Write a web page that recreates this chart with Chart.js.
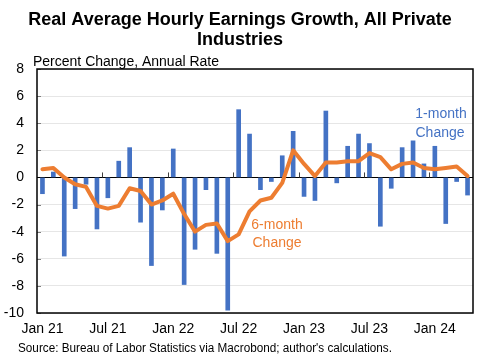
<!DOCTYPE html>
<html><head><meta charset="utf-8">
<script src="https://cdn.jsdelivr.net/npm/chart.js@4"></script>
<style>html,body{margin:0;padding:0;background:#fff}#wrap{width:480px;height:360px}</style>
</head><body><div id="wrap"><canvas id="c" width="480" height="360"></canvas></div>
<script>
const months = ["Jan 21","Feb 21","Mar 21","Apr 21","May 21","Jun 21","Jul 21","Aug 21","Sep 21","Oct 21","Nov 21","Dec 21",
"Jan 22","Feb 22","Mar 22","Apr 22","May 22","Jun 22","Jul 22","Aug 22","Sep 22","Oct 22","Nov 22","Dec 22",
"Jan 23","Feb 23","Mar 23","Apr 23","May 23","Jun 23","Jul 23","Aug 23","Sep 23","Oct 23","Nov 23","Dec 23",
"Jan 24","Feb 24","Mar 24","Apr 24"];
const oneMonth = [-1.2,0.4,-5.8,-2.3,-0.5,-3.8,-1.5,1.2,2.2,-3.3,-6.5,-2.4,
2.1,-7.9,-5.3,-0.9,-5.6,-9.8,5.0,3.2,-0.9,-0.3,1.6,3.4,
-1.4,-1.7,4.9,-0.4,2.3,3.2,2.5,-3.6,-0.8,2.2,2.7,1.0,
2.3,-3.4,-0.3,-1.3];
const sixMonth = [0.6,0.7,0.0,-0.5,-0.7,-2.1,-2.3,-2.1,-0.8,-1.0,-2.0,-1.7,
-1.2,-2.7,-4.0,-3.5,-3.4,-4.7,-4.2,-2.5,-1.7,-1.5,-0.4,2.0,
1.0,0.1,1.1,1.1,1.2,1.2,1.8,1.5,0.6,1.0,1.1,0.7,
0.6,0.7,0.8,0.1];
const tickLabels = ["Jan 21","Jul 21","Jan 22","Jul 22","Jan 23","Jul 23","Jan 24"];
const titleLines = ["Real Average Hourly Earnings Growth, All Private","Industries"];
const yAxisTitle = "Percent Change, Annual Rate";
const sourceText = "Source: Bureau of Labor Statistics via Macrobond; author's calculations.";

const FONT = "'Liberation Sans', Arial, sans-serif";
const BLUE = "#4472C4", ORANGE = "#ED7D31";

const decor = {
  id: 'decor',
  beforeDatasetsDraw(chart) {
    const {ctx, chartArea: a, scales} = chart;
    const y0 = scales.y.getPixelForValue(0);
    ctx.save();
    // y tick marks inside the plot
    ctx.strokeStyle = '#7F7F7F'; ctx.lineWidth = 1;
    scales.y.ticks.forEach(t => {
      const py = Math.round(scales.y.getPixelForValue(t.value)) + 0.5;
      ctx.beginPath(); ctx.moveTo(a.left, py); ctx.lineTo(a.left + 4, py); ctx.stroke();
    });
    ctx.strokeStyle = '#000';
    ctx.beginPath(); ctx.moveTo(a.left, Math.round(y0)+0.5); ctx.lineTo(a.right, Math.round(y0)+0.5); ctx.stroke();
    // tick marks between Jun/Jul and Dec/Jan
    const x = scales.x;
    const half = (x.getPixelForValue(1) - x.getPixelForValue(0)) / 2;
    ctx.strokeStyle = '#404040';
    months.forEach((m, i) => {
      if (i > 0 && (m.startsWith('Jul') || m.startsWith('Jan'))) {
        const px = Math.round(x.getPixelForValue(i) - half) + 0.5;
        ctx.beginPath(); ctx.moveTo(px, y0); ctx.lineTo(px, y0 - 5); ctx.stroke();
      }
    });
    ctx.restore();
  },
  afterDraw(chart) {
    const {ctx, chartArea: a} = chart;
    ctx.save();
    ctx.strokeStyle = '#000'; ctx.lineWidth = 1.5;
    ctx.strokeRect(a.left, a.top, a.right - a.left, a.bottom - a.top);
    ctx.fillStyle = '#000';
    ctx.textAlign = 'center'; ctx.textBaseline = 'middle';
    ctx.font = "bold 18px " + FONT;
    ctx.fillText(titleLines[0], 240, 20);
    ctx.fillText(titleLines[1], 240, 40);
    ctx.textAlign = 'left';
    ctx.font = "14px " + FONT;
    ctx.fillText(yAxisTitle, 33, 62);
    // source, fitted to width
    ctx.font = "12px " + FONT;
    const w = ctx.measureText(sourceText).width;
    ctx.save();
    ctx.translate(18, 349);
    ctx.scale(374 / w, 1);
    ctx.fillText(sourceText, 0, 0);
    ctx.restore();
    // annotations
    ctx.font = "14px " + FONT;
    ctx.textAlign = 'center';
    ctx.fillStyle = BLUE;
    ctx.fillText("1-month", 441, 114);
    ctx.fillText("Change", 440, 133);
    ctx.fillStyle = ORANGE;
    ctx.fillText("6-month", 277, 225);
    ctx.fillText("Change", 277, 243);
    ctx.restore();
  }
};

new Chart(document.getElementById('c'), {
  type: 'bar',
  data: {
    labels: months,
    datasets: [
      { type: 'line', label: '6-month Change', data: sixMonth, borderColor: ORANGE, backgroundColor: ORANGE,
        borderWidth: 4, pointRadius: 0, tension: 0, order: 0, borderJoinStyle: 'round', borderCapStyle: 'round' },
      { type: 'bar', label: '1-month Change', data: oneMonth, backgroundColor: BLUE, barThickness: 4, order: 1 }
    ]
  },
  plugins: [decor],
  options: {
    responsive: false, animation: false,
    layout: { padding: { left: 0, right: 7, top: 69, bottom: 0 } },
    plugins: { legend: { display: false }, tooltip: { enabled: false }, title: { display: false } },
    scales: {
      x: {
        grid: { display: false },
        border: { display: false },
        afterFit(s) { s.height = 47; },
        ticks: {
          autoSkip: false, maxRotation: 0, minRotation: 0, padding: 0,
          color: '#000', font: { family: FONT, size: 14 },
          callback(v, i) { const l = months[i]; return tickLabels.includes(l) ? l : ''; }
        }
      },
      y: {
        min: -10, max: 8,
        afterFit(s) { s.width = 37; },
        border: { display: false },
        grid: { color: '#E6E6E6', drawTicks: false, lineWidth: 1 },
        ticks: { stepSize: 2, padding: 13, color: '#000', font: { family: FONT, size: 14 } }
      }
    }
  }
});
</script></body></html>
